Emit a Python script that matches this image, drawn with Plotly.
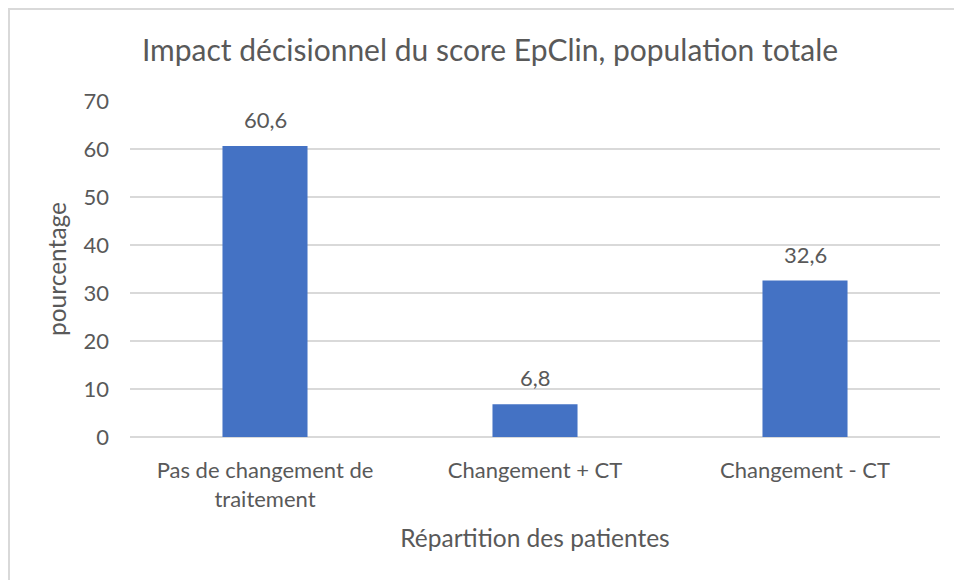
import plotly.graph_objects as go

categories = ["Pas de changement de<br>traitement", "Changement + CT", "Changement - CT"]
values = [60.6, 6.8, 32.6]
value_labels = ["60,6", "6,8", "32,6"]
y_ticks = [0, 10, 20, 30, 40, 50, 60, 70]

FONT = "Lato"
TXT = "#595959"
GRID = "#d9d9d9"
FS = 22
FS_T = 24.5

fig = go.Figure()
fig.add_trace(go.Bar(x=categories, y=values, marker=dict(color="#4472C4", line=dict(width=0)),
                     hoverinfo="skip"))

for c, v, lab in zip(categories, values, value_labels):
    fig.add_annotation(x=c, y=v, text=lab, showarrow=False, yanchor="bottom", yshift=11,
                       font=dict(family=FONT, size=FS, color=TXT))

# page body has an 8px offset
OFF = 8
L, R, T, B = 130 - OFF, 22 + OFF, 101 - OFF, 143 + OFF
W, H = 962, 580
pw, ph = W - L - R, H - T - B
fig.add_shape(type="rect", xref="paper", yref="paper",
              x0=(9 - 130) / pw, x1=(975 - 130) / pw,
              y0=(437 - 595) / ph, y1=(437 - 9) / ph,
              line=dict(color=GRID, width=2), fillcolor="rgba(0,0,0,0)", layer="below")

fig.update_layout(
    width=W, height=H,
    margin=dict(l=L, r=R, t=T, b=B),
    paper_bgcolor="white", plot_bgcolor="white",
    bargap=0.685,
    showlegend=False,
    font=dict(family=FONT, color=TXT, size=FS),
    title=dict(text="Impact décisionnel du score EpClin, population totale",
               x=(490 - OFF) / W, xanchor="center", xref="container",
               y=1 - (50 - OFF) / H, yanchor="middle", yref="container",
               font=dict(family=FONT, size=30, color=TXT)),
    xaxis=dict(showgrid=False, showline=False, zeroline=False, ticks="",
               tickfont=dict(family=FONT, size=FS, color=TXT),
               ticklabelstandoff=18,
               title=dict(text="Répartition des patientes", standoff=19,
                          font=dict(family=FONT, size=FS_T, color=TXT))),
    yaxis=dict(range=[0, 70], tickvals=y_ticks, showgrid=True, gridcolor=GRID, gridwidth=1.5,
               zeroline=True, zerolinecolor=GRID, zerolinewidth=2, showline=False, ticks="",
               tickfont=dict(family=FONT, size=FS, color=TXT),
               ticklabelstandoff=20,
               title=dict(text="pourcentage", standoff=9,
                          font=dict(family=FONT, size=FS_T, color=TXT))),
)

fig.write_html("out.html")
